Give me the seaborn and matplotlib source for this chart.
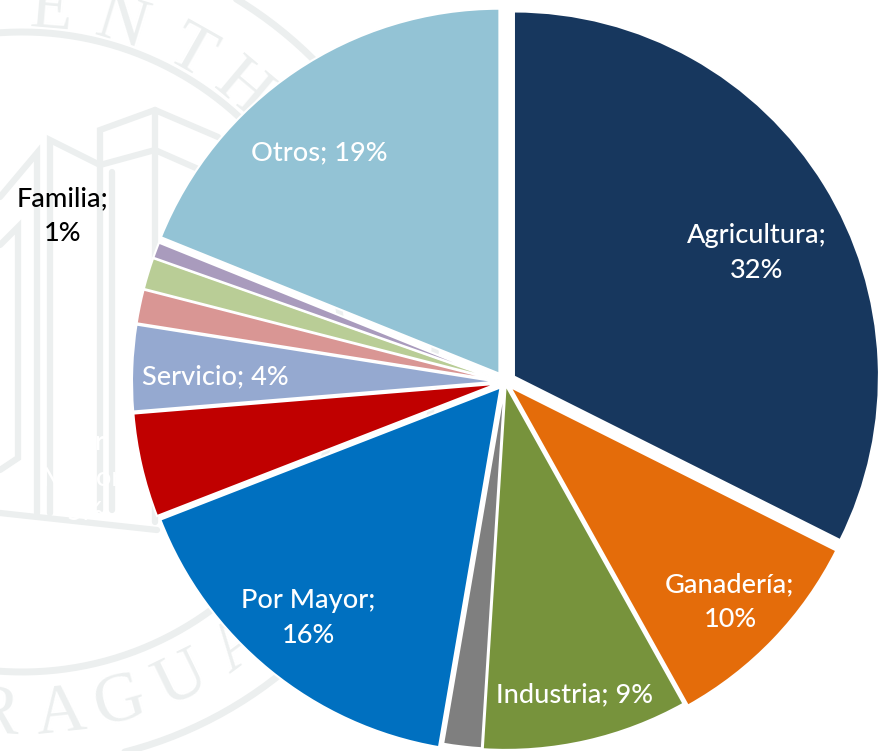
import numpy as np
import matplotlib
matplotlib.use('Agg')
import matplotlib.pyplot as plt
import seaborn as sns

# datos del grafico
sectores = ['Agricultura', 'Ganadería', 'Industria', 'Comercio', 'Por Mayor', 'Por Menor',
            'Servicio', 'Transporte', 'Vivienda', 'Familia', 'Otros']
valores = [32.4, 9.5, 9.1, 1.7, 16.4, 4.6, 3.8, 1.5, 1.4, 0.7, 18.9]
etiquetas = ['Agricultura;\n32%', 'Ganadería;\n10%', 'Industria; 9%', '', 'Por Mayor;\n16%',
             'Por\nMenor;\n5%', 'Servicio; 4%', '', '', 'Familia;\n1%', 'Otros; 19%']
colores = ['#17375E', '#E46C0A', '#77933C', '#7F7F7F', '#0070C0', '#C00000',
           '#95A9D0', '#D99694', '#B9CD96', '#A99BBD', '#93C3D5']
# en pie el explode va en unidades de datos, aqui pixeles
separacion = [10.5, 7, 3, 2, 7, 8, 8, 8, 8, 8, 10]
color_texto = ['white', 'white', 'white', 'white', 'white', 'white',
               'white', 'white', 'white', 'black', 'white']

# posicion de las etiquetas en pixeles de la imagen
etiqueta_x = [757, 730, 574, 0, 308, 85, 215, 0, 0, 63, 319]
etiqueta_y = [253, 602, 695, 0, 618, 478, 377, 0, 0, 216, 153]

# sello de fondo
tinta = '#ECEFEF'
letras_arriba = ['E', 'N', 'T', 'H']
angulos_arriba = [5, 17, 29.5, 40]
letras_abajo = ['R', 'A', 'G', 'U', 'A']
angulos_abajo = [-4, 6, 15.5, 26, 36.5]
edificios = [
    [(0, 197), (37, 153), (37, 513)],
    [(50, 513), (50, 140), (100, 165), (155, 150), (205, 172)],
    [(100, 510), (100, 130), (155, 110), (218, 137)],
    [(112, 510), (112, 172)],
    [(155, 110), (155, 522)],
    [(0, 245), (18, 227), (18, 458), (0, 470)],
    [(0, 513), (157, 530)],
]

H = 751
sns.set_theme(style='white')
plt.rcParams['font.family'] = ['Lato', 'DejaVu Sans']

fig = plt.figure(figsize=(8.8, 7.51), dpi=100)
ax = fig.add_axes([0, 0, 1, 1])

# sello: circulos, letras y edificios
cx, cy = 22, 352
for r, lw in [(320, 5), (413, 5)]:
    t = np.linspace(0, 2 * np.pi, 400)
    ax.plot(cx + r * np.cos(t), H - cy + r * np.sin(t), color=tinta, lw=lw, zorder=0)
for letra, a in zip(letras_arriba, angulos_arriba):
    rad = np.radians(a)
    ax.text(cx + 342 * np.sin(rad), H - cy + 342 * np.cos(rad), letra, rotation=-a,
            family='Liberation Serif', fontsize=50, color=tinta, ha='center', va='center', zorder=0)
for letra, a in zip(letras_abajo, angulos_abajo):
    rad = np.radians(a)
    ax.text(cx + 365 * np.sin(rad), H - cy - 365 * np.cos(rad), letra, rotation=a,
            family='Liberation Serif', fontsize=50, color=tinta, ha='center', va='center', zorder=0)
for linea in edificios:
    xs = [p[0] for p in linea]
    ys = [H - p[1] for p in linea]
    ax.plot(xs, ys, color=tinta, lw=4.5, zorder=0, solid_joinstyle='miter')

wedges, textos = ax.pie(valores, labels=etiquetas, colors=sns.color_palette(colores), explode=separacion,
                        startangle=90, counterclock=False, center=(505, H - 382), radius=365,
                        normalize=True, wedgeprops=dict(edgecolor='white', linewidth=1.5),
                        textprops=dict(fontsize=19.5, fontweight='medium'))
for texto, x, y, c in zip(textos, etiqueta_x, etiqueta_y, color_texto):
    texto.set_position((x, H - y))
    texto.set_ha('center')
    texto.set_va('center')
    texto.set_color(c)
    texto.set_multialignment('center')
    texto.set_linespacing(1.5)

ax.set_xlim(0, 880)
ax.set_ylim(0, H)
ax.set_aspect('equal')
ax.axis('off')

fig.savefig('out.png', dpi=100, facecolor='white')
